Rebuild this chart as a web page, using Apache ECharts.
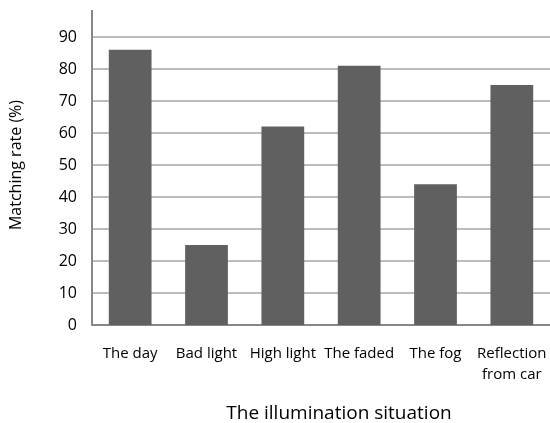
<!DOCTYPE html>
<html>
<head>
<meta charset="utf-8">
<script src="https://cdn.jsdelivr.net/npm/echarts@6/dist/echarts.min.js"></script>
<style>
  html, body { margin: 0; padding: 0; background: #fff; }
  #chart { width: 550px; height: 423px; }
</style>
</head>
<body>
<div id="chart"></div>
<script>
const categories = ["The day", "Bad light", "High light", "The faded", "The fog", "Reflection\nfrom car"];
const matchingRate = [86, 25, 62, 81, 44, 75];

const chart = echarts.init(document.getElementById("chart"));
const font = "'Open Sans', 'Liberation Sans', sans-serif";

chart.setOption({
  animation: false,
  // fixed plot box, the title sits right at the bottom edge
  grid: { left: 92, right: 0, top: 5, bottom: 98, containLabel: false, outerBoundsMode: "none" },
  xAxis: {
    type: "category",
    data: categories,
    name: "The illumination situation",
    nameLocation: "middle",
    nameGap: 79,
    nameMoveOverlap: false,
    // title sits a bit right of the plot centre
    nameTextStyle: { fontFamily: font, fontSize: 19, color: "#000", padding: [0, 0, 0, 36] },
    axisLine: { lineStyle: { color: "#878787", width: 2 } },
    axisTick: { show: false },
    axisLabel: { fontFamily: font, fontSize: 15, color: "#000", margin: 18, interval: 0, lineHeight: 21 }
  },
  yAxis: {
    type: "value",
    min: 0,
    max: 100,
    interval: 10,
    name: "Matching rate (%)",
    nameLocation: "middle",
    nameGap: 68,
    nameMoveOverlap: false,
    nameTextStyle: { fontFamily: font, fontSize: 16, color: "#000" },
    axisLine: { show: true, lineStyle: { color: "#878787", width: 2 } },
    axisTick: { show: false },
    axisLabel: { fontFamily: font, fontSize: 16, color: "#000", margin: 15 },
    splitLine: { lineStyle: { color: "#a6a6a6", width: 1.5 } }
  },
  // the reference is cropped just above the plot, hiding most of the "100" label
  graphic: [{
    type: "rect",
    left: 0,
    top: 0,
    z: 100,
    shape: { width: 550, height: 10 },
    style: { fill: "#fff" }
  }],
  series: [{
    type: "bar",
    data: matchingRate,
    barWidth: "56%",
    itemStyle: { color: "#606060" }
  }]
});
</script>
</body>
</html>
